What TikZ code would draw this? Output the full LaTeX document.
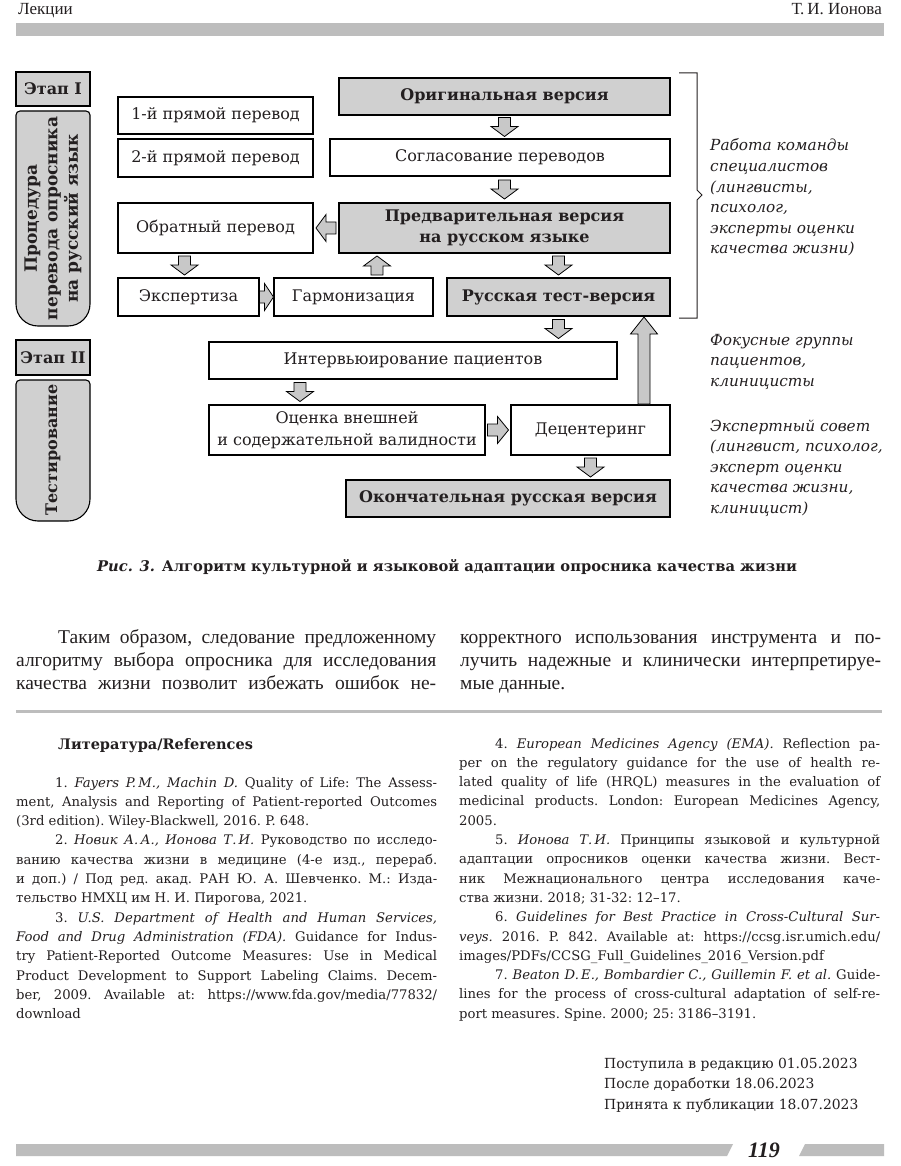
\documentclass[tikz,border=0pt]{standalone}
\usepackage{fontspec}
\setmainfont{DejaVu Serif}
\newfontfamily\bodyfont{Liberation Serif}
\usetikzlibrary{calc}
\definecolor{ink}{HTML}{231F20}
\definecolor{bargray}{HTML}{BDBDBD}
\definecolor{boxgray}{HTML}{D0D0D0}
\definecolor{arrgray}{HTML}{C8C8C8}
\newdimen\bXa \newdimen\bYa \newdimen\bXb \newdimen\bYb
\newcommand\blockarrow[4]{%
  \path #1 coordinate (bA) #2 coordinate (bB);
  \pgfextractx{\bXa}{\pgfpointanchor{bA}{center}}%
  \pgfextracty{\bYa}{\pgfpointanchor{bA}{center}}%
  \pgfextractx{\bXb}{\pgfpointanchor{bB}{center}}%
  \pgfextracty{\bYb}{\pgfpointanchor{bB}{center}}%
  \pgfmathsetmacro\bAng{atan2(\bYb-\bYa,\bXb-\bXa)}%
  \pgfmathsetmacro\bG{(veclen(\bXb-\bXa,\bYb-\bYa)-#3)/2}%
  \pgfmathsetmacro\bN{\bG+#3-#4}%
  \pgfmathsetmacro\bT{\bG+#3}%
  \draw[blockarr, shift={(bA)}, rotate=\bAng, x=1pt, y=1pt]
    (\bG,6) -- (\bN,6) -- (\bN,13.5) -- (\bT,0) -- (\bN,-13.5) -- (\bN,-6) -- (\bG,-6) -- cycle;
}
\newcommand\parsetup{\frenchspacing\tolerance=10000\hbadness=10000\emergencystretch=200pt\hyphenpenalty=10000\exhyphenpenalty=10000\relax}
\tikzset{
  box/.style={draw=black, line width=1.1pt, fill=white, inner sep=0pt, align=center, text=ink,
    font=\fontsize{16}{21.5}\selectfont},
  gbox/.style={box, fill=boxgray, font=\fontsize{16}{21.5}\selectfont\bfseries},
  lshape/.style={draw=black, line width=1.1pt, fill=boxgray},
  blockarr/.style={draw=black, line width=0.8pt, fill=arrgray, line join=miter},
  sidetext/.style={inner sep=0pt, text=ink, font=\fontsize{15.3}{20.6}\selectfont\itshape},
  plain/.style={inner sep=0pt, text=ink},
}
\begin{document}
\begin{tikzpicture}[x=1pt,y=-1pt]
\useasboundingbox (0,0) rectangle (900,1166);
\fill[white] (0,0) rectangle (900,1166);

% header
\node[plain, anchor=base west, font=\bodyfont\fontsize{17}{20}\selectfont] (hl) at (18,15) {Лекции};
\node[plain, anchor=base east, font=\bodyfont\fontsize{17}{20}\selectfont] (hr) at (882,15) {Т.\,И. Ионова};
\fill[bargray] (16,23) rectangle (884,36);

% left column stage boxes
\node[gbox, minimum width=74pt, minimum height=34pt] (e1) at (53,89) {Этап I};
\draw[lshape] (16,200) [rounded corners=4pt] -- (16,111) -- (90,111) -- (90,200) [rounded corners=22pt] -- (90,326) -- (16,326) -- cycle;
\node[plain, rotate=90, align=center, font=\fontsize{17}{20.5}\selectfont\bfseries] (proc) at (53,218.5) {Процедура\\перевода опросника\\на русский язык};
\node[gbox, minimum width=74pt, minimum height=35pt] (e2) at (53,357.5) {Этап II};
\draw[lshape] (16,450) [rounded corners=4pt] -- (16,380) -- (90,380) -- (90,450) [rounded corners=22pt] -- (90,521) -- (16,521) -- cycle;
\node[plain, rotate=90, font=\fontsize{16}{20.5}\selectfont\bfseries] (tst) at (53,450) {Тестирование};

% main boxes
\node[gbox, minimum width=331pt, minimum height=37pt] (orig) at (504.5,96.5) {Оригинальная версия};
\node[box, minimum width=195pt, minimum height=37pt] (p1) at (215.5,115.5) {1-й прямой перевод};
\node[box, minimum width=195pt, minimum height=38pt] (p2) at (215.5,158) {2-й прямой перевод};
\node[box, minimum width=340pt, minimum height=37pt] (sogl) at (500,157.5) {Согласование переводов};
\node[box, minimum width=195pt, minimum height=50pt] (back) at (215.5,228) {Обратный перевод};
\node[gbox, minimum width=331pt, minimum height=50pt] (prelim) at (504.5,228) {Предварительная версия\\на русском языке};
\node[box, minimum width=141pt, minimum height=38pt] (exp) at (188.5,297) {Экспертиза};
\node[box, minimum width=159pt, minimum height=38pt] (harm) at (353.5,297) {Гармонизация};
\node[gbox, minimum width=223pt, minimum height=38pt] (test) at (558.5,297) {Русская тест-версия};
\node[box, minimum width=408pt, minimum height=37pt] (interv) at (413,360.5) {Интервьюирование пациентов};
\node[box, minimum width=276pt, minimum height=50pt] (ocen) at (347,430) {Оценка внешней\\и содержательной валидности};
\node[box, minimum width=159pt, minimum height=50pt] (dec) at (590.5,430) {Децентеринг};
\node[gbox, minimum width=324pt, minimum height=37pt] (final) at (508,498.5) {Окончательная русская версия};

% block arrows
\blockarrow{(orig.south)}{(orig.south |- sogl.north)}{19}{10}
\blockarrow{(orig.south |- sogl.south)}{(orig.south |- prelim.north)}{19}{10}
\blockarrow{(prelim.west)}{(back.east)}{20}{10}
\blockarrow{($(exp.north |- back.south)+(-4,0)$)}{($(exp.north)+(-4,0)$)}{19}{10}
\blockarrow{(exp.east)}{(harm.west)}{14}{9}
\blockarrow{($(harm.north)+(23.5,0)$)}{($(harm.north |- prelim.south)+(23.5,0)$)}{19}{10}
\blockarrow{(test.north |- prelim.south)}{(test.north)}{19}{10}
\blockarrow{(test.south)}{(test.south |- interv.north)}{19}{10}
\blockarrow{($(dec.north)+(53.5,0)$)}{($(dec.north |- test.south)+(53.5,0)$)}{87}{17}
\blockarrow{($(ocen.north |- interv.south)+(-47,0)$)}{($(ocen.north)+(-47,0)$)}{19}{10}
\blockarrow{(ocen.east)}{(dec.west)}{21}{11}
\blockarrow{(dec.south)}{(dec.south |- final.north)}{19}{10}

% bracket
\draw[ink, line width=1pt] (679,73) -- (697,73) -- (697,190) -- (702,195) -- (697,200) -- (697,318) -- (679,318);

% side texts
\node[sidetext, anchor=base west] (team) at (710,151) {\parbox[t]{188pt}{Работа команды\\специалистов\\(лингвисты,\\психолог,\\эксперты оценки\\качества жизни)}};
\node[sidetext, anchor=base west] (focus) at (710,345) {\parbox[t]{188pt}{Фокусные группы\\пациентов,\\клиницисты}};
\node[sidetext, anchor=base west] (council) at (710,431) {\parbox[t]{188pt}{Экспертный совет\\(лингвист, психолог,\\эксперт оценки\\качества жизни,\\клиницист)}};

% caption
\node[plain, anchor=base, font=\fontsize{14.7}{18}\selectfont\bfseries] (cap) at (447,571) {\textit{Рис. 3.} Алгоритм культурной и языковой адаптации опросника качества жизни};

% body text
\node[plain, anchor=base west, font=\bodyfont\fontsize{19.5}{23}\selectfont] (bodyL) at (16,643) {\parbox[t]{420pt}{\parsetup\parindent=42pt\parfillskip=0pt Таким образом, следование предложенному\linebreak алгоритму выбора опросника для исследования\linebreak качества жизни позволит избежать ошибок не-}};
\node[plain, anchor=base west, font=\bodyfont\fontsize{19.5}{23}\selectfont] (bodyR) at (460,643) {\parbox[t]{421pt}{\parsetup корректного использования инструмента и по-\linebreak лучить надежные и клинически интерпретируе-\linebreak мые данные.}};
\draw[bargray, line width=3pt] (16,711) -- (882,711);

% references
\node[plain, anchor=base west, font=\fontsize{14.5}{16}\selectfont\bfseries] (lit) at (58,749) {Литература/References};
\node[plain, anchor=base west, font=\fontsize{13.2}{19.3}\selectfont] (refL) at (16,787) {\parbox[t]{421pt}{\parsetup\parindent=39pt
1. \textit{Fayers P.\,M., Machin D.} Quality of Life: The Assess-\linebreak ment, Analysis and Reporting of Patient-reported Outcomes\linebreak (3rd edition). Wiley-Blackwell, 2016. P. 648.\par
2. \textit{Новик А.\,А., Ионова Т.\,И.} Руководство по исследо-\linebreak ванию качества жизни в медицине (4-е изд., перераб.\linebreak и доп.) / Под ред. акад. РАН Ю.~А. Шевченко. М.: Изда-\linebreak тельство НМХЦ им Н.~И. Пирогова, 2021.\par
3. \textit{U.S. Department of Health and Human Services,\linebreak Food and Drug Administration (FDA).} Guidance for Indus-\linebreak try Patient-Reported Outcome Measures: Use in Medical\linebreak Product Development to Support Labeling Claims. Decem-\linebreak ber, 2009. Available at: https://www.fda.gov/media/77832/\linebreak download}};
\node[plain, anchor=base west, font=\fontsize{13.2}{19.3}\selectfont] (refR) at (459,748) {\parbox[t]{421pt}{\parsetup\parindent=36pt
4. \textit{European Medicines Agency (EMA).} Reflection pa-\linebreak per on the regulatory guidance for the use of health re-\linebreak lated quality of life (HRQL) measures in the evaluation of\linebreak medicinal products. London: European Medicines Agency,\linebreak 2005.\par
5. \textit{Ионова Т.\,И.} Принципы языковой и культурной\linebreak адаптации опросников оценки качества жизни. Вест-\linebreak ник Межнационального центра исследования каче-\linebreak ства жизни. 2018; 31-32: 12–17.\par
6. \textit{Guidelines for Best Practice in Cross-Cultural Sur-\linebreak veys.} 2016. P. 842. Available at: https://ccsg.isr.umich.edu/\linebreak images/PDFs/CCSG\_Full\_Guidelines\_2016\_Version.pdf\par
7. \textit{Beaton D.\,E., Bombardier C., Guillemin F. et al.} Guide-\linebreak lines for the process of cross-cultural adaptation of self-re-\linebreak port measures. Spine. 2000; 25: 3186–3191.}};

% dates
\node[plain, anchor=base west, font=\fontsize{13.9}{20.5}\selectfont] (dates) at (604,1068) {\parbox[t]{280pt}{Поступила в редакцию 01.05.2023\\После доработки 18.06.2023\\Принята к публикации 18.07.2023}};

% footer
\fill[bargray] (16,1144) -- (733,1144) -- (727,1156) -- (16,1156) -- cycle;
\fill[bargray] (805,1144) -- (884,1144) -- (884,1156) -- (799,1156) -- cycle;
\node[plain, anchor=base, font=\bodyfont\fontsize{22}{24}\selectfont\bfseries\itshape] (pg) at (764,1157) {119};
\end{tikzpicture}
\end{document}
